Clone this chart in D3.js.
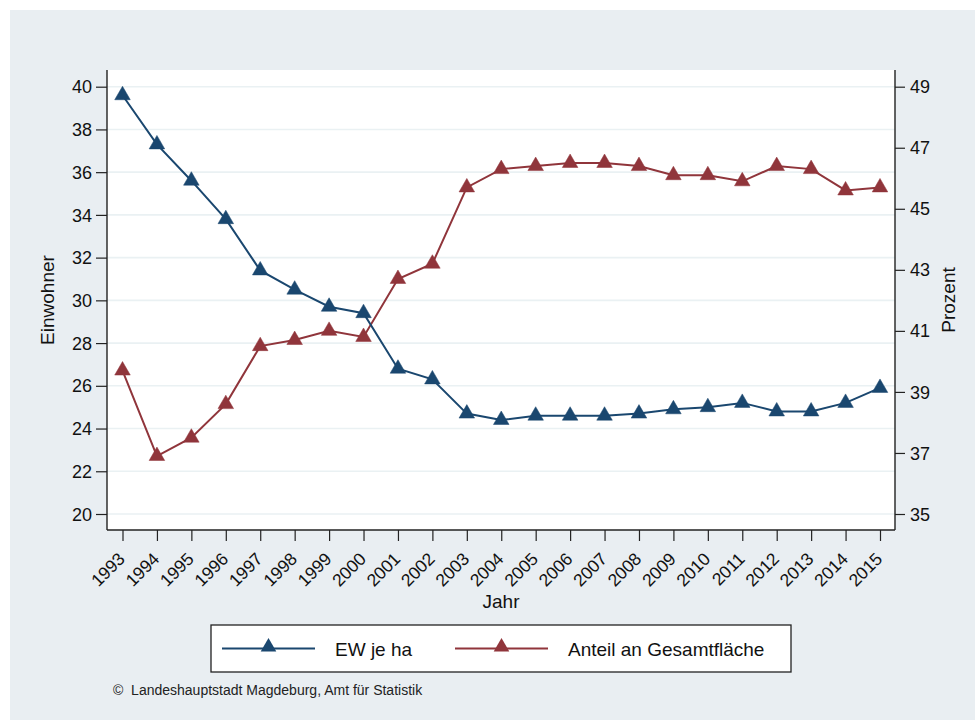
<!DOCTYPE html>
<html>
<head>
<meta charset="utf-8">
<script src="https://cdn.jsdelivr.net/npm/d3@7"></script>
<style>
  html, body { margin: 0; padding: 0; background: #ffffff; }
  svg { display: block; font-family: "Liberation Sans", Arial, Helvetica, sans-serif; }
</style>
</head>
<body>
<svg id="chart" width="975" height="720"></svg>
<script>
// ---- Data ----
const years = [1993,1994,1995,1996,1997,1998,1999,2000,2001,2002,2003,2004,2005,2006,2007,2008,2009,2010,2011,2012,2013,2014,2015];
const ewJeHa = [39.6,37.3,35.6,33.8,31.4,30.5,29.7,29.4,26.8,26.3,24.7,24.4,24.6,24.6,24.6,24.7,24.9,25.0,25.2,24.8,24.8,25.2,25.9];
const anteil = [39.7,36.9,37.5,38.6,40.5,40.7,41.0,40.8,42.7,43.2,45.7,46.3,46.4,46.5,46.5,46.4,46.1,46.1,45.9,46.4,46.3,45.6,45.7];
const leftTicks = [20,22,24,26,28,30,32,34,36,38,40];
const rightTicks = [35,37,39,41,43,45,47,49];
const seriesNames = ["EW je ha", "Anteil an Gesamtfläche"];
const axisTitles = { left: "Einwohner", right: "Prozent", bottom: "Jahr" };
const credit = "©  Landeshauptstadt Magdeburg, Amt für Statistik";

// ---- Styles ----
const navy = "#1a476f", maroon = "#90353b";
const panelColor = "#e9eef2", gridColor = "#eaf1f3", axisColor = "#222";

const svg = d3.select("#chart");
const plot = { left: 107, right: 895, top: 70, bottom: 530 };

// outer panel
svg.append("rect").attr("x", 10).attr("y", 10).attr("width", 975).attr("height", 720).attr("fill", panelColor);
// plot region
svg.append("rect").attr("x", plot.left).attr("y", plot.top)
  .attr("width", plot.right - plot.left).attr("height", plot.bottom - plot.top).attr("fill", "#fff");

const x = d3.scalePoint().domain(years).range([122.5, 880]);
const yL = d3.scaleLinear().domain([20, 40]).range([514, 86.7]);
const yR = d3.scaleLinear().domain([35, 49]).range([514, 86.7]);

// gridlines
svg.append("g").selectAll("line").data(leftTicks).join("line")
  .attr("x1", plot.left).attr("x2", plot.right)
  .attr("y1", d => yL(d)).attr("y2", d => yL(d))
  .attr("stroke", gridColor).attr("stroke-width", 1.6);

function styleAxis(g) {
  g.select(".domain").remove();
  g.selectAll(".tick line").attr("stroke", axisColor).attr("stroke-width", 1.2);
  g.selectAll(".tick text").attr("fill", "#111").attr("font-size", 18)
    .attr("font-family", '"Liberation Sans", Arial, sans-serif');
}

// left axis
const gL = svg.append("g").attr("transform", `translate(${plot.left},0)`)
  .call(d3.axisLeft(yL).tickValues(leftTicks).tickFormat(d3.format("d")).tickSize(11).tickPadding(4));
styleAxis(gL);
gL.selectAll(".tick text").attr("dy", "0.34em");

// right axis
const gR = svg.append("g").attr("transform", `translate(${plot.right},0)`)
  .call(d3.axisRight(yR).tickValues(rightTicks).tickFormat(d3.format("d")).tickSize(10).tickPadding(5));
styleAxis(gR);
gR.selectAll(".tick text").attr("dy", "0.34em");

// bottom axis
const gB = svg.append("g").attr("transform", `translate(0,${plot.bottom})`)
  .call(d3.axisBottom(x).tickValues(years).tickFormat(d3.format("d")).tickSize(11).tickPadding(3));
styleAxis(gB);
gB.selectAll(".tick text")
  .attr("font-size", 17.5)
  .attr("text-anchor", "end")
  .attr("x", 0).attr("y", 0)
  .attr("dy", "0")
  .attr("transform", "translate(3,30) rotate(-45)");

// axis lines
svg.append("line").attr("x1", plot.left).attr("x2", plot.left).attr("y1", plot.top).attr("y2", plot.bottom)
  .attr("stroke", axisColor).attr("stroke-width", 1.4);
svg.append("line").attr("x1", plot.right).attr("x2", plot.right).attr("y1", plot.top).attr("y2", plot.bottom)
  .attr("stroke", axisColor).attr("stroke-width", 1.4);
svg.append("line").attr("x1", plot.left).attr("x2", plot.right).attr("y1", plot.bottom).attr("y2", plot.bottom)
  .attr("stroke", axisColor).attr("stroke-width", 1.4);

// axis titles
svg.append("text").attr("transform", "translate(54,300) rotate(-90)").attr("text-anchor", "middle")
  .attr("font-size", 19).attr("fill", "#111").text(axisTitles.left);
svg.append("text").attr("transform", "translate(955,300) rotate(-90)").attr("text-anchor", "middle")
  .attr("font-size", 19).attr("fill", "#111").text(axisTitles.right);
svg.append("text").attr("x", (plot.left + plot.right) / 2).attr("y", 608).attr("text-anchor", "middle")
  .attr("font-size", 19).attr("fill", "#111").text(axisTitles.bottom);

// series
const tri = d3.symbol().type(d3.symbolTriangle).size(105);
function drawSeries(values, yScale, color) {
  const pts = years.map((yr, i) => [x(yr), yScale(values[i])]);
  svg.append("path").attr("d", d3.line()(pts)).attr("fill", "none")
    .attr("stroke", color).attr("stroke-width", 2);
  svg.append("g").selectAll("path").data(pts).join("path")
    .attr("d", tri).attr("transform", d => `translate(${d[0]},${d[1]})`)
    .attr("fill", color).attr("stroke", color).attr("stroke-width", 0.5);
}
drawSeries(anteil, yR, maroon);
drawSeries(ewJeHa, yL, navy);

// legend
const lg = svg.append("g");
lg.append("rect").attr("x", 211).attr("y", 625).attr("width", 580).attr("height", 47)
  .attr("fill", "#fff").attr("stroke", "#222").attr("stroke-width", 1.3);
const legendItems = [
  { name: seriesNames[0], color: navy, x0: 222, x1: 315, tx: 335 },
  { name: seriesNames[1], color: maroon, x0: 455, x1: 548, tx: 568 }
];
legendItems.forEach(it => {
  lg.append("line").attr("x1", it.x0).attr("x2", it.x1).attr("y1", 648.5).attr("y2", 648.5)
    .attr("stroke", it.color).attr("stroke-width", 2);
  lg.append("path").attr("d", tri).attr("transform", `translate(${(it.x0 + it.x1) / 2},647)`)
    .attr("fill", it.color);
  lg.append("text").attr("x", it.tx).attr("y", 655.5).attr("font-size", 19).attr("fill", "#111").text(it.name);
});

// credit
svg.append("text").attr("x", 113).attr("y", 695).attr("font-size", 14).attr("fill", "#222")
  .attr("xml:space", "preserve").style("white-space", "pre").text(credit);
</script>
</body>
</html>
